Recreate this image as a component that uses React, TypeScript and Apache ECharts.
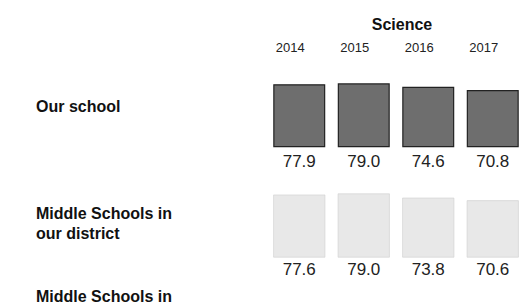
import { useEffect, useRef } from "react";
import * as echarts from "echarts";

const subject = "Science";
const years = ["2014", "2015", "2016", "2017"];
const ourSchool = [77.9, 79.0, 74.6, 70.8];
const districtSchools = [77.6, 79.0, 73.8, 70.6];
const rowLabels = ["Our school", "Middle Schools in\nour district", "Middle Schools in"];

const FONT = "'Liberation Sans', Arial, sans-serif";

export default function App() {
  const ref = useRef<HTMLDivElement>(null);
  useEffect(() => {
    const chart = echarts.init(ref.current!, null, { renderer: "svg" });
    chart.setOption({
      animation: false,
      backgroundColor: "#ffffff",
      title: {
        text: subject,
        left: 397,
        top: 11,
        textAlign: "center",
        textStyle: { fontFamily: FONT, fontSize: 16, fontWeight: "bold", color: "#111" },
      },
      grid: [
        { left: 267, width: 264, top: 66.3, height: 81 },
        { left: 267, width: 264, top: 176.5, height: 81 },
      ],
      xAxis: [
        {
          gridIndex: 0,
          type: "category",
          data: years,
          position: "top",
          axisLine: { show: false },
          axisTick: { show: false },
          splitLine: { show: false },
          axisLabel: {
            fontFamily: FONT,
            fontSize: 13,
            color: "#222",
            margin: 12,
            padding: [0, 18, 0, 0],
          },
        },
        { gridIndex: 1, type: "category", data: years, show: false },
      ],
      yAxis: [
        { gridIndex: 0, type: "value", min: 0, max: 100, show: false },
        { gridIndex: 1, type: "value", min: 0, max: 100, show: false },
      ],
      series: [
        {
          type: "bar",
          xAxisIndex: 0,
          yAxisIndex: 0,
          data: ourSchool,
          barWidth: 52,
          itemStyle: { color: "#6e6e6e", borderColor: "#222", borderWidth: 1.2 },
          label: {
            show: true,
            position: "bottom",
            distance: 6,
            formatter: (p: any) => p.value.toFixed(1),
            fontFamily: FONT,
            fontSize: 17,
            color: "#222",
          },
        },
        {
          type: "bar",
          xAxisIndex: 1,
          yAxisIndex: 1,
          data: districtSchools,
          barWidth: 52,
          itemStyle: { color: "#e8e8e8", borderColor: "#cfcfcf", borderWidth: 0.6 },
          label: {
            show: true,
            position: "bottom",
            distance: 3,
            formatter: (p: any) => p.value.toFixed(1),
            fontFamily: FONT,
            fontSize: 17,
            color: "#222",
          },
        },
      ],
      graphic: [
        {
          type: "text",
          left: 36,
          top: 98,
          style: { text: rowLabels[0], font: `bold 16px ${FONT}`, fill: "#111" },
        },
        {
          type: "text",
          left: 36,
          top: 203,
          style: { text: rowLabels[1], font: `bold 16px ${FONT}`, fill: "#111", lineHeight: 20 },
        },
        {
          type: "text",
          left: 36,
          top: 288,
          style: { text: rowLabels[2], font: `bold 16px ${FONT}`, fill: "#111" },
        },
      ],
    });
    return () => chart.dispose();
  }, []);
  return (
    <div
      ref={ref}
      style={{ position: "absolute", left: 0, top: 0, width: 525, height: 307 }}
    />
  );
}
